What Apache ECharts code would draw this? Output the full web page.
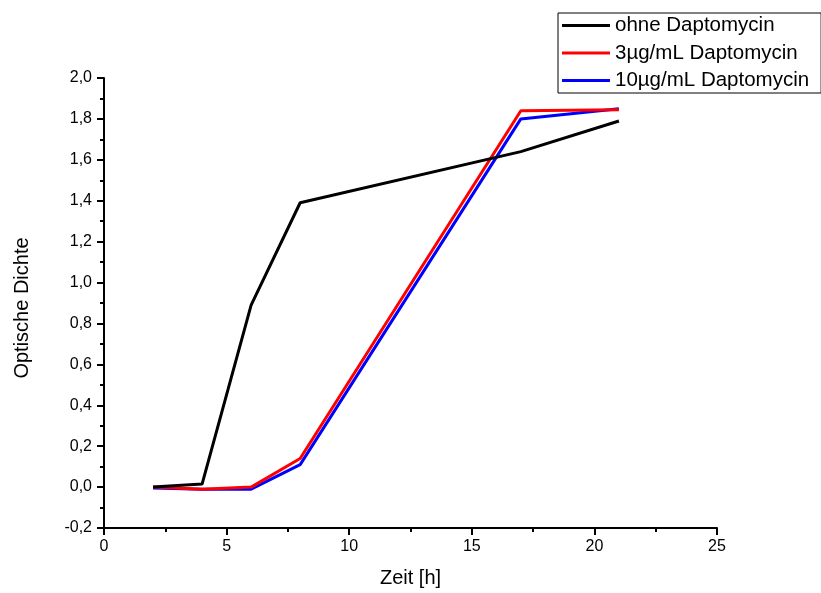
<!DOCTYPE html>
<html>
<head>
<meta charset="utf-8">
<script src="https://cdn.jsdelivr.net/npm/echarts@6/dist/echarts.min.js"></script>
<style>
  html, body { margin: 0; padding: 0; background: #fff; }
  #chart { width: 821px; height: 593px; }
</style>
</head>
<body>
<div id="chart"></div>
<script>
const zeit = [2, 4, 6, 8, 17, 21]
const ohne = [0.0, 0.015, 0.89, 1.39, 1.64, 1.79]
const dapto3 = [0.0, -0.01, 0.0, 0.14, 1.84, 1.845]
const dapto10 = [-0.005, -0.01, -0.01, 0.11, 1.80, 1.85]
const seriesNames = ['ohne Daptomycin', '3µg/mL Daptomycin', '10µg/mL Daptomycin']
const seriesColors = ['#000000', '#ff0000', '#0000ff']

const FONT = 'Liberation Sans, Arial, sans-serif'

function pairs (ys) {
  return zeit.map((x, i) => [x, ys[i]])
}

const chart = echarts.init(document.getElementById('chart'), null, { renderer: 'canvas' })

const axisCommon = {
  axisLine: { onZero: false, lineStyle: { color: '#000', width: 2 } },
  axisTick: { inside: false, length: 7, lineStyle: { color: '#000', width: 2 } },
  minorTick: { show: true, splitNumber: 2, length: 4, lineStyle: { color: '#000', width: 2 } },
  splitLine: { show: false },
  minorSplitLine: { show: false },
  axisLabel: { color: '#000', fontSize: 16, fontFamily: FONT, margin: 11 },
  nameTextStyle: { color: '#000', fontSize: 20, fontFamily: FONT }
}

chart.setOption({
  animation: false,
  backgroundColor: '#fff',
  grid: { left: 104, right: 104, top: 78, bottom: 65, containLabel: false },
  legend: {
    orient: 'vertical',
    left: 558,
    top: 13,
    padding: [2, 12, 2, 4],
    borderColor: '#000',
    borderWidth: 1,
    icon: 'rect',
    itemWidth: 48,
    itemHeight: 3,
    itemGap: 6.5,
    textStyle: { color: '#000', fontSize: 20.5, fontFamily: FONT },
    data: seriesNames
  },
  xAxis: Object.assign({}, axisCommon, {
    type: 'value',
    min: 0,
    max: 25,
    interval: 5,
    name: 'Zeit [h]',
    nameLocation: 'middle',
    nameGap: 40
  }),
  yAxis: Object.assign({}, axisCommon, {
    type: 'value',
    min: -0.2,
    max: 2.0,
    interval: 0.2,
    name: 'Optische Dichte',
    nameLocation: 'middle',
    nameGap: 72,
    nameTextStyle: Object.assign({}, axisCommon.nameTextStyle, { padding: [0, 10, 0, 0] }),
    axisLabel: Object.assign({}, axisCommon.axisLabel, {
      margin: 12,
      formatter: v => (Math.round(v * 10) / 10).toFixed(1).replace('.', ',')
    })
  }),
  series: [ohne, dapto3, dapto10].map((ys, i) => ({
    name: seriesNames[i],
    type: 'line',
    data: pairs(ys),
    symbol: 'none',
    color: seriesColors[i],
    itemStyle: { color: seriesColors[i] },
    lineStyle: { width: 3, color: seriesColors[i] },
    z: 3 - i
  }))
})
</script>
</body>
</html>
